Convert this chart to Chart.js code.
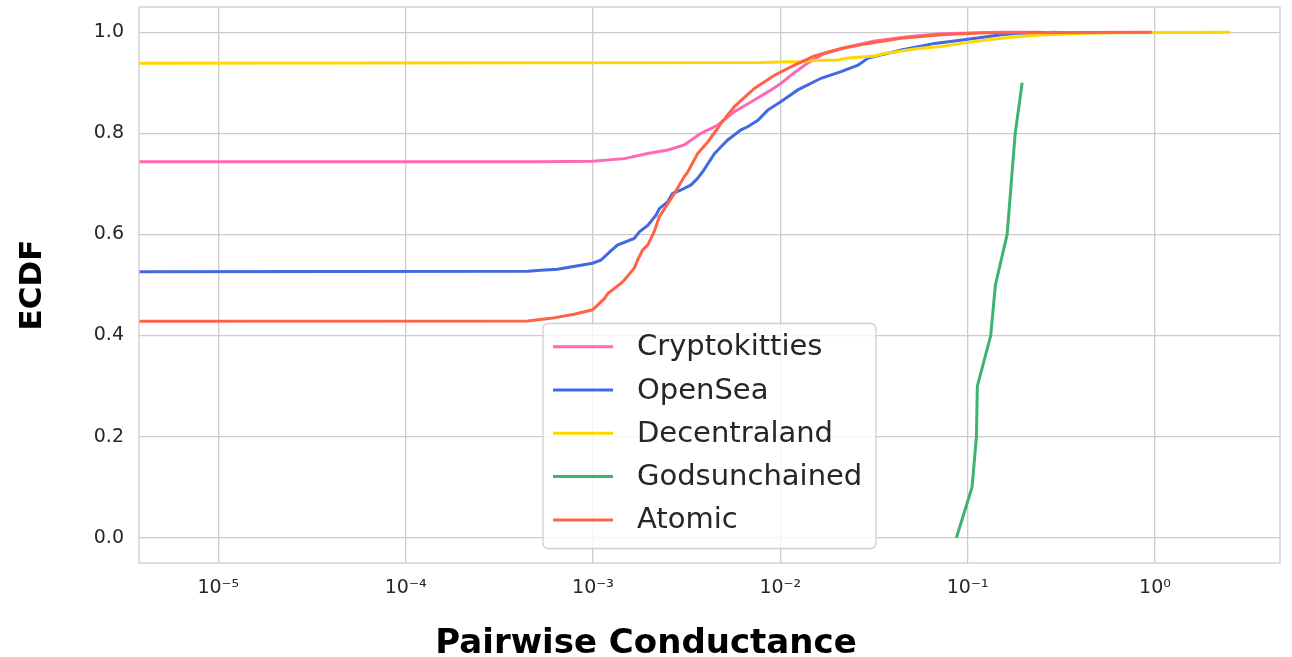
<!DOCTYPE html>
<html>
<head>
<meta charset="utf-8">
<script src="https://cdn.jsdelivr.net/npm/chart.js@4.4.1/dist/chart.umd.min.js"></script>
<style>
  html, body { margin: 0; padding: 0; background: #fff; }
  #wrap { width: 1292px; height: 657px; }
</style>
</head>
<body>
<div id="wrap"><canvas id="ecdfChart" width="1292" height="657"></canvas></div>
<script>
const names = ["Cryptokitties", "OpenSea", "Decentraland", "Godsunchained", "Atomic"];
const colors = ["#ff69b4", "#4169e1", "#ffd700", "#3cb371", "#ff6347"];

// values (x = conductance, y = ECDF)
const cryptoX = [1e-6, 5.26e-4, 9.95e-4, 1.47e-3, 1.96e-3, 2.51e-3, 3.07e-3, 3.77e-3, 4.63e-3, 5.69e-3, 7.27e-3, 8.93e-3, 1.01e-2, 1.14e-2, 1.40e-2, 1.72e-2, 2.30e-2, 3.19e-2, 4.81e-2, 7.24e-2, 0.151, 0.25];
const cryptoY = [0.744, 0.744, 0.745, 0.750, 0.760, 0.767, 0.777, 0.800, 0.816, 0.843, 0.866, 0.886, 0.899, 0.915, 0.939, 0.958, 0.971, 0.983, 0.991, 0.997, 1.0, 1.0];

const openX = [1e-6, 4.5e-4, 5.26e-4, 6.47e-4, 8.61e-4, 9.95e-4, 1.10e-3, 1.25e-3, 1.35e-3, 1.66e-3, 1.77e-3, 1.96e-3, 2.17e-3, 2.26e-3, 2.51e-3, 2.66e-3, 2.95e-3, 3.34e-3, 3.62e-3, 3.85e-3, 4.45e-3, 4.73e-3, 5.24e-3, 6.17e-3, 6.70e-3, 7.59e-3, 8.57e-3, 1.01e-2, 1.24e-2, 1.65e-2, 2.11e-2, 2.60e-2, 2.94e-2, 4.42e-2, 6.67e-2, 0.1005, 0.151, 0.186, 0.3];
const openY = [0.526, 0.527, 0.529, 0.531, 0.539, 0.543, 0.549, 0.568, 0.579, 0.592, 0.605, 0.618, 0.638, 0.651, 0.665, 0.681, 0.688, 0.698, 0.711, 0.724, 0.760, 0.770, 0.787, 0.807, 0.813, 0.826, 0.846, 0.863, 0.886, 0.909, 0.922, 0.935, 0.949, 0.965, 0.978, 0.986, 0.995, 0.998, 1.0];

const decX = [1e-6, 7.89e-3, 1.29e-2, 1.52e-2, 2.03e-2, 2.30e-2, 3.19e-2, 3.60e-2, 4.25e-2, 5.43e-2, 7.24e-2, 0.1005, 0.1514, 0.228, 0.422, 0.637, 2.52];
const decY = [0.9386, 0.940, 0.942, 0.944, 0.945, 0.949, 0.953, 0.958, 0.962, 0.968, 0.972, 0.980, 0.988, 0.994, 0.998, 0.999, 1.0];

const godsX = [0.0871, 0.1056, 0.1114, 0.1127, 0.1328, 0.1407, 0.1625, 0.1794, 0.1955];
const godsY = [0.0, 0.1, 0.2, 0.3, 0.4, 0.5, 0.6, 0.8, 0.9];

const atomicX = [1e-6, 4.47e-4, 5.96e-4, 7.93e-4, 9.95e-4, 1.15e-3, 1.20e-3, 1.41e-3, 1.47e-3, 1.66e-3, 1.73e-3, 1.84e-3, 1.96e-3, 2.12e-3, 2.26e-3, 2.51e-3, 2.72e-3, 3.07e-3, 3.21e-3, 3.62e-3, 4.10e-3, 4.63e-3, 4.83e-3, 5.69e-3, 7.27e-3, 9.31e-3, 1.19e-2, 1.52e-2, 2.11e-2, 2.94e-2, 4.42e-2, 7.24e-2, 0.123, 0.96];
const atomicY = [0.428, 0.429, 0.434, 0.442, 0.451, 0.473, 0.483, 0.503, 0.510, 0.533, 0.549, 0.569, 0.579, 0.605, 0.635, 0.661, 0.681, 0.714, 0.724, 0.760, 0.783, 0.810, 0.820, 0.853, 0.889, 0.915, 0.935, 0.953, 0.968, 0.978, 0.988, 0.995, 0.999, 1.0];

const xTicks = [1e-5, 1e-4, 1e-3, 1e-2, 1e-1, 1];
const xTickLabels = ["10⁻⁵", "10⁻⁴", "10⁻³", "10⁻²", "10⁻¹", "10⁰"];
const yTicks = [0, 0.2, 0.4, 0.6, 0.8, 1.0];

const seriesX = [cryptoX, openX, decX, godsX, atomicX];
const seriesY = [cryptoY, openY, decY, godsY, atomicY];

function pts(xs, ys) {
  return xs.map((x, i) => ({x: x, y: ys[i]}));
}

const datasets = names.map((name, i) => ({
  label: name,
  data: pts(seriesX[i], seriesY[i]),
  borderColor: colors[i],
  backgroundColor: colors[i],
  borderWidth: 3,
  pointRadius: 0,
  tension: 0,
  fill: false,
  order: names.length - i
}));

const gridColor = "#cccccc";
const textColor = "#262626";

// plot frame on all four sides, x title centred on the figure, legend box
const frameAndLegend = {
  id: 'frameAndLegend',
  afterDraw(chart) {
    const c = chart.ctx;
    const a = chart.chartArea;
    c.save();
    c.strokeStyle = gridColor;
    c.lineWidth = 1.3;
    c.strokeRect(a.left, a.top, a.right - a.left, a.bottom - a.top);

    c.fillStyle = '#000';
    c.font = "bold 34px 'DejaVu Sans'";
    c.textAlign = 'center';
    c.textBaseline = 'alphabetic';
    c.fillText('Pairwise Conductance', chart.width / 2, 653);

    // legend
    const bx = 543, by = 323.5, bw = 333, bh = 225, r = 5;
    c.beginPath();
    c.moveTo(bx + r, by);
    c.arcTo(bx + bw, by, bx + bw, by + bh, r);
    c.arcTo(bx + bw, by + bh, bx, by + bh, r);
    c.arcTo(bx, by + bh, bx, by, r);
    c.arcTo(bx, by, bx + bw, by, r);
    c.closePath();
    c.fillStyle = "rgba(255,255,255,0.8)";
    c.fill();
    c.strokeStyle = "#d0d0d0";
    c.lineWidth = 1.3;
    c.stroke();

    c.font = "29px 'DejaVu Sans'";
    c.textBaseline = "middle";
    c.textAlign = "left";
    chart.data.datasets.forEach((ds, i) => {
      const ry = 346.7 + i * 43.3;
      c.strokeStyle = ds.borderColor;
      c.lineWidth = 3;
      c.beginPath();
      c.moveTo(553, ry);
      c.lineTo(613, ry);
      c.stroke();
      c.fillStyle = textColor;
      c.fillText(ds.label, 637, ry + 1);
    });
    c.restore();
  }
};

const ctx = document.getElementById('ecdfChart');
const chart = new Chart(ctx, {
  type: 'line',
  data: { datasets: datasets },
  options: {
    responsive: false,
    animation: false,
    layout: { padding: { left: 0, right: 12, top: 7, bottom: 0 } },
    plugins: {
      legend: { display: false },
      tooltip: { enabled: false }
    },
    scales: {
      x: {
        type: 'logarithmic',
        min: 3.773e-6,
        max: 4.65,
        afterBuildTicks: s => { s.ticks = xTicks.map(v => ({value: v})); },
        afterFit: s => { s.height = 94; s.paddingLeft = 0; s.paddingRight = 0; },
        ticks: {
          color: textColor,
          font: { family: "'DejaVu Sans'", size: 19 },
          padding: 14,
          maxRotation: 0,
          autoSkip: false,
          callback: (v) => xTickLabels[xTicks.indexOf(v)]
        },
        grid: { color: gridColor, lineWidth: 1.3, drawTicks: false },
        border: { display: false },
        title: { display: false }
      },
      y: {
        type: 'linear',
        min: -0.05,
        max: 1.05,
        afterBuildTicks: s => { s.ticks = yTicks.map(v => ({value: v})); },
        afterFit: s => { s.width = 139; s.paddingTop = 0; s.paddingBottom = 0; },
        ticks: {
          color: textColor,
          font: { family: "'DejaVu Sans'", size: 19 },
          padding: 15,
          callback: (v) => v.toFixed(1)
        },
        grid: { color: gridColor, lineWidth: 1.3, drawTicks: false },
        border: { display: false },
        title: {
          display: true,
          text: 'ECDF',
          color: '#000',
          font: { family: "'DejaVu Sans'", size: 31, weight: 'bold', lineHeight: 1 },
          padding: { top: 17, bottom: 0 }
        }
      }
    }
  },
  plugins: [frameAndLegend]
});
</script>
</body>
</html>
